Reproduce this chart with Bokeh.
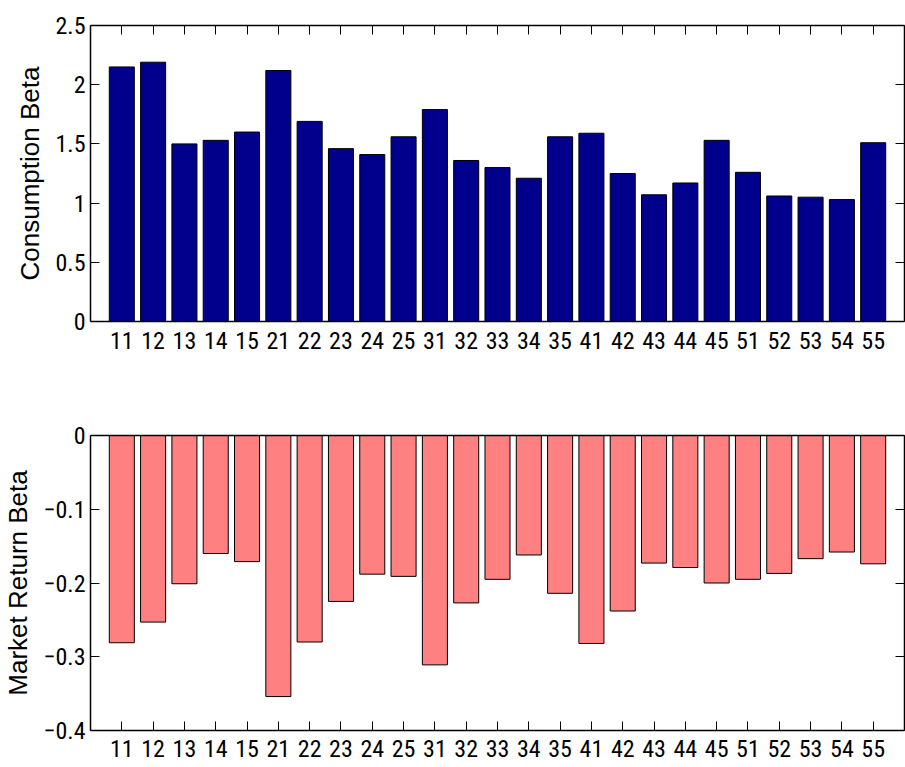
from bokeh.plotting import figure
from bokeh.models import Range1d, FixedTicker, LinearAxis
from bokeh.layouts import column
from bokeh.embed import file_html
from bokeh.resources import INLINE

# ---------------- data ----------------
industries = ["11", "12", "13", "14", "15", "21", "22", "23", "24", "25",
              "31", "32", "33", "34", "35", "41", "42", "43", "44", "45",
              "51", "52", "53", "54", "55"]
consumption_beta = [2.15, 2.19, 1.50, 1.53, 1.60, 2.12, 1.69, 1.46, 1.41, 1.56,
                    1.79, 1.36, 1.30, 1.21, 1.56, 1.59, 1.25, 1.07, 1.17, 1.53,
                    1.26, 1.06, 1.05, 1.03, 1.51]
market_beta = [-0.281, -0.253, -0.201, -0.160, -0.171, -0.354, -0.280, -0.225,
               -0.188, -0.191, -0.311, -0.227, -0.195, -0.162, -0.214, -0.282,
               -0.238, -0.173, -0.179, -0.200, -0.195, -0.187, -0.167, -0.158,
               -0.174]
cons_range = (0, 2.5)
cons_ticks = [0, 0.5, 1, 1.5, 2, 2.5]
cons_tick_labels = ["0", "0.5", "1", "1.5", "2", "2.5"]
mkt_range = (-0.4, 0)
mkt_ticks = [-0.4, -0.3, -0.2, -0.1, 0]
mkt_tick_labels = ["\u22120.4", "\u22120.3", "\u22120.2", "\u22120.1", "0"]
cons_label = "Consumption Beta"
mkt_label = "Market Return Beta"

# bar positions 1..N on a numeric axis (MATLAB-style bar layout)
positions = list(range(1, len(industries) + 1))
x_limits = (0, len(industries) + 1)

# ---------------- style ----------------
W = 905
TICK_FONT = "'Roboto Condensed', 'Liberation Sans', sans-serif"
TICK_SIZE = "24px"
LABEL_FONT = "Liberation Sans"
LABEL_SIZE = "26px"
TICK_LEN = 9


def style_axis(ax, tick_in, show_labels, standoff=5):
    ax.axis_line_color = "black"
    ax.axis_line_width = 1.5
    ax.major_tick_in = tick_in
    ax.major_tick_out = 0
    ax.major_tick_line_color = "black"
    ax.major_tick_line_width = 1
    ax.minor_tick_in = 0
    ax.minor_tick_out = 0
    ax.minor_tick_line_color = None
    if show_labels:
        ax.major_label_text_font = TICK_FONT
        ax.major_label_text_font_size = TICK_SIZE
        ax.major_label_text_color = "black"
        ax.major_label_standoff = standoff
    else:
        ax.major_label_text_font_size = "0px"
        ax.major_label_standoff = 0
        ax.major_label_text_color = None


def make_panel(values, yr, ticks, tick_labels, ylabel, color, height,
               b_top, b_bottom, top_ticks, bottom_ticks, x_standoff):
    p = figure(x_range=Range1d(*x_limits), y_range=Range1d(*yr),
               width=W, height=height,
               output_backend="svg", toolbar_location=None,
               min_border_left=87, min_border_right=1,
               min_border_top=b_top, min_border_bottom=b_bottom,
               background_fill_color="white", border_fill_color="white",
               outline_line_color=None)
    p.xgrid.visible = False
    p.ygrid.visible = False

    p.vbar(x=positions, top=values, bottom=0, width=0.8,
           fill_color=color, line_color="black", line_width=1)

    x_ticker = FixedTicker(ticks=positions)
    x_overrides = {x: s for x, s in zip(positions, industries)}

    # left axis
    yax = p.yaxis[0]
    yax.ticker = FixedTicker(ticks=ticks)
    yax.major_label_overrides = {t: s for t, s in zip(ticks, tick_labels)}
    style_axis(yax, TICK_LEN, True, standoff=5)
    yax.axis_label = ylabel
    yax.axis_label_text_font = LABEL_FONT
    yax.axis_label_text_font_size = LABEL_SIZE
    yax.axis_label_text_font_style = "normal"
    yax.axis_label_text_color = "black"
    yax.axis_label_standoff = 7

    # bottom axis
    xax = p.xaxis[0]
    xax.ticker = x_ticker
    xax.major_label_overrides = x_overrides
    style_axis(xax, TICK_LEN if bottom_ticks else 0, True, standoff=x_standoff)

    # top axis (ticks only)
    top = LinearAxis(ticker=FixedTicker(ticks=positions))
    style_axis(top, TICK_LEN if top_ticks else 0, False)
    p.add_layout(top, "above")

    # right axis (ticks only)
    right = LinearAxis(ticker=FixedTicker(ticks=ticks))
    style_axis(right, TICK_LEN, False)
    p.add_layout(right, "right")
    return p


p1 = make_panel(consumption_beta, cons_range, cons_ticks, cons_tick_labels,
                cons_label, "#00008C", 380, 25, 59,
                top_ticks=True, bottom_ticks=False, x_standoff=10)
p2 = make_panel(market_beta, mkt_range, mkt_ticks, mkt_tick_labels,
                mkt_label, "#FF8080", 387, 55, 37,
                top_ticks=False, bottom_ticks=True, x_standoff=9)

layout = column(p1, p2, spacing=0)
open("out.html", "w").write(file_html(layout, INLINE))
